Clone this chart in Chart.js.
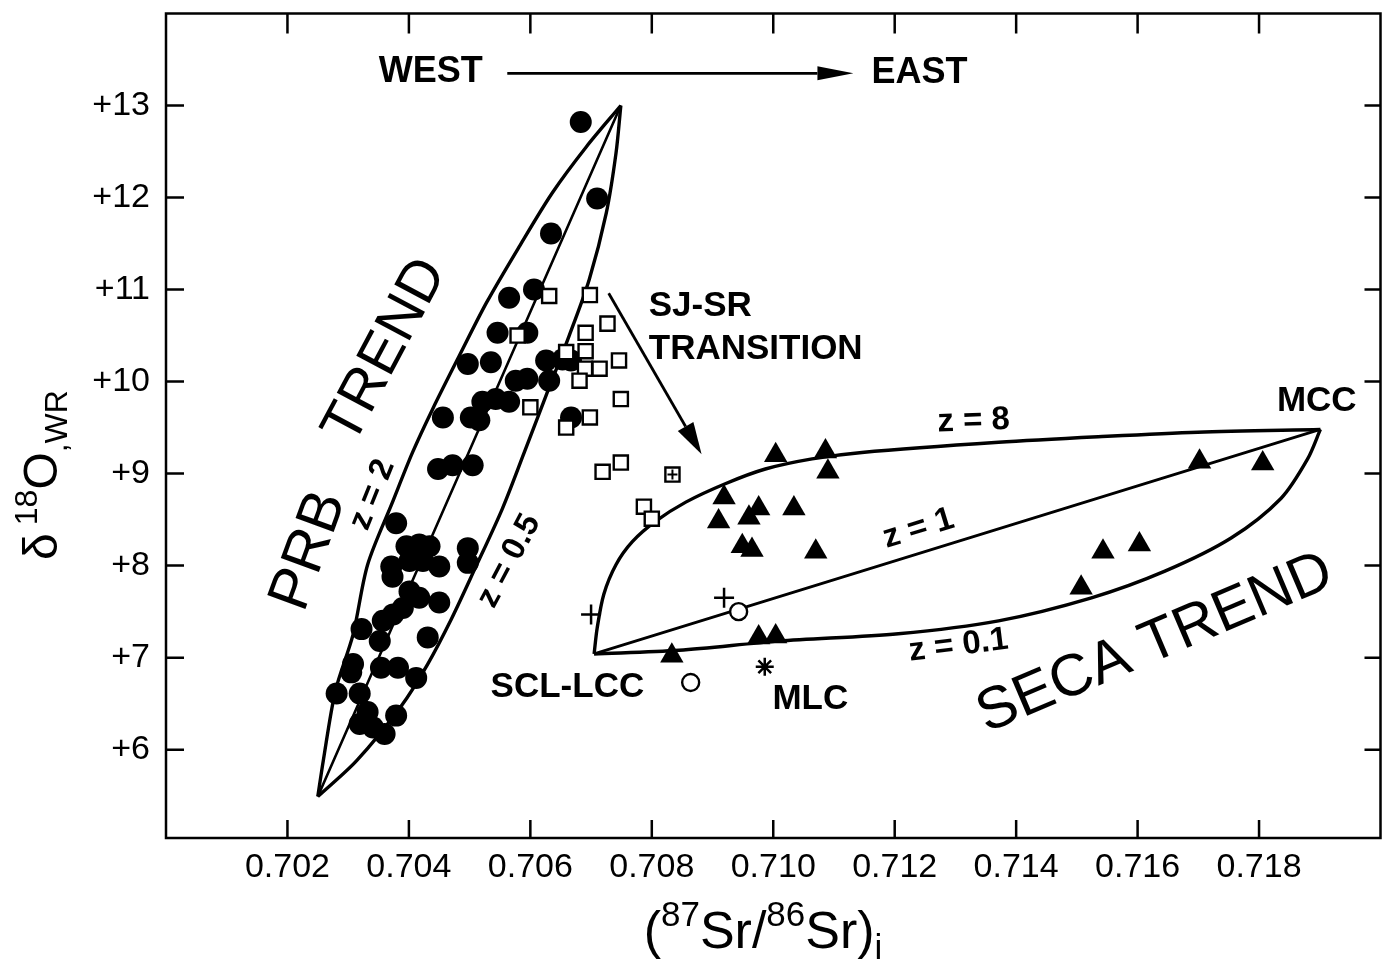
<!DOCTYPE html>
<html>
<head>
<meta charset="utf-8">
<title>δ18O vs (87Sr/86Sr)i</title>
<script src="https://cdn.jsdelivr.net/npm/chart.js@4.4.1/dist/chart.umd.min.js"></script>
<style>
  html, body { margin: 0; padding: 0; background: #fff; }
  #wrap { width: 1394px; height: 965px; }
</style>
</head>
<body>
<div id="wrap"><canvas id="chart" width="1394" height="965"></canvas></div>
<script>
const FONT = '"Liberation Sans", Arial, Helvetica, sans-serif';

// axis ticks
const srTicks = [0.702, 0.704, 0.706, 0.708, 0.710, 0.712, 0.714, 0.716, 0.718];
const d18oTicks = [6, 7, 8, 9, 10, 11, 12, 13];

// samples: [(87Sr/86Sr)i, δ18O]
const prbSamples = [
  [0.70683, 12.82], [0.70710, 11.99], [0.70634, 11.61], [0.70606, 11.00],
  [0.70565, 10.91], [0.70546, 10.53], [0.70595, 10.53], [0.70497, 10.19],
  [0.70535, 10.21], [0.70626, 10.23], [0.70653, 10.24], [0.70667, 10.23],
  [0.70631, 10.01], [0.70576, 10.01], [0.70595, 10.03], [0.70521, 9.78],
  [0.70543, 9.81], [0.70565, 9.78], [0.70456, 9.61], [0.70502, 9.61],
  [0.70516, 9.58], [0.70667, 9.61], [0.70448, 9.05], [0.70472, 9.09],
  [0.70505, 9.09], [0.70379, 8.46], [0.70396, 8.21], [0.70417, 8.23],
  [0.70434, 8.21], [0.70371, 7.99], [0.70373, 7.88], [0.70401, 8.05],
  [0.70423, 8.05], [0.70450, 7.99], [0.70497, 8.19], [0.70497, 8.03],
  [0.70401, 7.72], [0.70417, 7.65], [0.70450, 7.60], [0.70390, 7.54],
  [0.70374, 7.47], [0.70357, 7.40], [0.70322, 7.31], [0.70352, 7.18],
  [0.70431, 7.22], [0.70308, 6.93], [0.70305, 6.84], [0.70354, 6.89],
  [0.70382, 6.89], [0.70412, 6.78], [0.70281, 6.61], [0.70319, 6.61],
  [0.70332, 6.41], [0.70379, 6.37], [0.70319, 6.28], [0.70341, 6.24],
  [0.70360, 6.17]
];
const sjsrSamples = [
  [0.70631, 10.93], [0.70698, 10.94], [0.70727, 10.63], [0.70691, 10.53],
  [0.70579, 10.50], [0.70691, 10.33], [0.70659, 10.32], [0.70746, 10.23],
  [0.70714, 10.14], [0.70690, 10.14], [0.70681, 10.01], [0.70749, 9.81],
  [0.70600, 9.72], [0.70698, 9.61], [0.70659, 9.50], [0.70749, 9.12],
  [0.70719, 9.02], [0.70787, 8.64], [0.70800, 8.51]
];
const sjsrCrossed = [[0.70834, 8.99]];
const secaSamples = [
  [0.71004, 9.20], [0.71086, 9.24], [0.71090, 9.02], [0.70919, 8.74],
  [0.70910, 8.48], [0.70976, 8.62], [0.70960, 8.52], [0.71034, 8.62],
  [0.70949, 8.21], [0.70965, 8.17], [0.71070, 8.15], [0.70976, 7.22],
  [0.71004, 7.23], [0.70833, 7.02], [0.71702, 9.13], [0.71806, 9.11],
  [0.71543, 8.15], [0.71603, 8.23], [0.71507, 7.76]
];
const openSamples = [[0.70943, 7.50], [0.70864, 6.73]];
const plusSamples = [[0.70919, 7.65], [0.70700, 7.47]];
const mlcSample = [[0.70986, 6.90]];

// mixing curves
const prbZ2 = [
  [0.70250, 5.49], [0.70259, 5.88], [0.70279, 6.64], [0.70308, 7.25],
  [0.70332, 8.01], [0.70373, 8.69], [0.70406, 9.23], [0.70439, 9.70],
  [0.70483, 10.28], [0.70528, 10.86], [0.70582, 11.47], [0.70636, 12.05],
  [0.70692, 12.55], [0.70749, 13.00]
];
const prbZ1 = [[0.70250, 5.49], [0.70749, 13.00]];
const prbZ05 = [
  [0.70250, 5.49], [0.70314, 5.88], [0.70388, 6.48], [0.70431, 6.93],
  [0.70470, 7.42], [0.70509, 7.97], [0.70554, 8.62], [0.70590, 9.23],
  [0.70626, 9.85], [0.70664, 10.50], [0.70697, 11.11], [0.70725, 11.83],
  [0.70741, 12.48], [0.70749, 13.00]
];
const secaZ8 = [
  [0.70705, 7.04], [0.70710, 7.32], [0.70721, 7.69], [0.70741, 8.01],
  [0.70768, 8.26], [0.70806, 8.48], [0.70856, 8.69], [0.70921, 8.89],
  [0.70987, 9.05], [0.71064, 9.16], [0.71146, 9.23], [0.71371, 9.34],
  [0.71535, 9.40], [0.71699, 9.45], [0.71901, 9.48]
];
const secaZ1 = [[0.70705, 7.04], [0.71901, 9.48]];
const secaZ01 = [
  [0.70705, 7.04], [0.70845, 7.08], [0.71009, 7.18], [0.71206, 7.26],
  [0.71371, 7.40], [0.71524, 7.65], [0.71645, 7.94], [0.71754, 8.30],
  [0.71836, 8.73], [0.71880, 9.16], [0.71901, 9.48]
];

// arrows, in data units
const eastArrow = [[0.70562, 13.35], [0.71132, 13.35]];
const sjsrArrow = [[0.70729, 10.96], [0.70882, 9.21]];

// text placed on the plot, in data units
const notes = [
  { text: 'WEST', x: 0.70436, y: 13.36, size: 36, bold: true },
  { text: 'EAST', x: 0.71241, y: 13.35, size: 36, bold: true },
  { text: 'SJ-SR', x: 0.70795, y: 10.82, size: 35, bold: true, align: 'left' },
  { text: 'TRANSITION', x: 0.70795, y: 10.35, size: 35, bold: true, align: 'left' },
  { text: 'MCC', x: 0.71895, y: 9.78, size: 35, bold: true },
  { text: 'z = 8', x: 0.71330, y: 9.57, size: 33, bold: true, rot: -2 },
  { text: 'z = 1', x: 0.71239, y: 8.40, size: 33, bold: true, rot: -17 },
  { text: 'z = 0.1', x: 0.71305, y: 7.13, size: 33, bold: true, rot: -7 },
  { text: 'SCL-LCC', x: 0.70661, y: 6.68, size: 35, bold: true },
  { text: 'MLC', x: 0.71061, y: 6.55, size: 35, bold: true },
  { text: 'z = 2', x: 0.70340, y: 8.77, size: 33, bold: true, rot: -68 },
  { text: 'z = 0.5', x: 0.70565, y: 8.05, size: 33, bold: true, rot: -62 },
  { text: 'PRB', x: 0.70236, y: 8.16, size: 59, rot: -70 },
  { text: 'TREND', x: 0.70362, y: 10.33, size: 58, rot: -62 },
  { text: 'SECA TREND', x: 0.71629, y: 7.15, size: 59, rot: -23 }
];

const pts = arr => arr.map(([x, y]) => ({ x, y }));

function curve(data, width) {
  return {
    type: 'line', data: pts(data), showLine: true, tension: 0.3,
    borderColor: '#000', borderWidth: width, pointRadius: 0, fill: false, order: 5
  };
}

function drawArrow(ctx, x1, y1, x2, y2, head, half) {
  const a = Math.atan2(y2 - y1, x2 - x1);
  const bx = x2 - head * Math.cos(a), by = y2 - head * Math.sin(a);
  ctx.beginPath();
  ctx.moveTo(x1, y1);
  ctx.lineTo(bx, by);
  ctx.stroke();
  ctx.beginPath();
  ctx.moveTo(x2, y2);
  ctx.lineTo(bx + half * Math.sin(a), by - half * Math.cos(a));
  ctx.lineTo(bx - half * Math.sin(a), by + half * Math.cos(a));
  ctx.closePath();
  ctx.fill();
}

// text run with super/subscripts, centred on (cx, baseline cy)
function richText(ctx, parts, cx, cy, angle) {
  ctx.save();
  ctx.translate(cx, cy);
  ctx.rotate(angle);
  ctx.textAlign = 'left';
  ctx.textBaseline = 'alphabetic';
  let total = 0;
  parts.forEach(p => {
    ctx.font = `${p.size}px ${FONT}`;
    p.w = ctx.measureText(p.t).width + (p.gap || 0);
    total += p.w;
  });
  let x = -total / 2;
  parts.forEach(p => {
    ctx.font = `${p.size}px ${FONT}`;
    ctx.fillText(p.t, x, p.dy || 0);
    x += p.w;
  });
  ctx.restore();
}

const decorations = {
  id: 'decorations',
  afterDatasetsDraw(chart) {
    const { ctx, chartArea: a, scales: { x, y } } = chart;
    ctx.save();
    ctx.strokeStyle = '#000';
    ctx.fillStyle = '#000';
    ctx.lineWidth = 2.5;
    ctx.strokeRect(a.left, a.top, a.right - a.left, a.bottom - a.top);

    // inward tick marks on all four sides
    ctx.beginPath();
    srTicks.forEach(v => {
      const px = x.getPixelForValue(v);
      ctx.moveTo(px, a.bottom); ctx.lineTo(px, a.bottom - 18);
      ctx.moveTo(px, a.top); ctx.lineTo(px, a.top + 20);
    });
    d18oTicks.forEach(v => {
      const py = y.getPixelForValue(v);
      ctx.moveTo(a.left, py); ctx.lineTo(a.left + 18, py);
      ctx.moveTo(a.right, py); ctx.lineTo(a.right - 16, py);
    });
    ctx.stroke();

    ctx.lineWidth = 2.8;
    const px = p => [x.getPixelForValue(p[0]), y.getPixelForValue(p[1])];
    let [p1, p2] = eastArrow.map(px);
    drawArrow(ctx, p1[0], p1[1], p2[0], p2[1], 36, 7);
    [p1, p2] = sjsrArrow.map(px);
    drawArrow(ctx, p1[0], p1[1], p2[0], p2[1], 32, 9);

    notes.forEach(n => {
      ctx.save();
      ctx.translate(x.getPixelForValue(n.x), y.getPixelForValue(n.y));
      ctx.rotate((n.rot || 0) * Math.PI / 180);
      ctx.font = `${n.bold ? 'bold ' : ''}${n.size}px ${FONT}`;
      ctx.textAlign = n.align || 'center';
      ctx.textBaseline = 'middle';
      ctx.fillText(n.text, 0, 0);
      ctx.restore();
    });

    // axis titles
    richText(ctx, [
      { t: '(', size: 52 },
      { t: '87', size: 35, dy: -22 },
      { t: 'Sr/', size: 52 },
      { t: '86', size: 35, dy: -22 },
      { t: 'Sr)', size: 52 },
      { t: 'i', size: 35, dy: 11 }
    ], 763, 948, 0);
    richText(ctx, [
      { t: 'δ', size: 48, gap: 8 },
      { t: '18', size: 32, dy: -20 },
      { t: 'O', size: 48 },
      { t: ',WR', size: 32, dy: 10 }
    ], 57, 475, -Math.PI / 2);
    ctx.restore();
  }
};

new Chart(document.getElementById('chart'), {
  type: 'scatter',
  data: {
    datasets: [
      { data: pts(plusSamples), pointStyle: 'cross', pointRadius: 10, borderColor: '#000', borderWidth: 2.5, order: 0 },
      { data: pts(mlcSample), pointStyle: 'star', pointRadius: 9, borderColor: '#000', borderWidth: 2.5, order: 0 },
      { data: pts(sjsrCrossed), pointStyle: 'cross', pointRadius: 5, borderColor: '#000', borderWidth: 2, order: 0 },
      { data: pts(sjsrCrossed), pointStyle: 'rect', pointRadius: 10, backgroundColor: '#fff', borderColor: '#000', borderWidth: 2.4, order: 1 },
      { data: pts(openSamples), pointStyle: 'circle', pointRadius: 8.5, backgroundColor: '#fff', borderColor: '#000', borderWidth: 2.4, order: 1 },
      { data: pts(sjsrSamples), pointStyle: 'rect', pointRadius: 10, backgroundColor: '#fff', borderColor: '#000', borderWidth: 2.4, order: 2 },
      { data: pts(prbSamples), pointStyle: 'circle', pointRadius: 11, backgroundColor: '#000', borderColor: '#000', borderWidth: 0, order: 3 },
      { data: pts(secaSamples), pointStyle: 'triangle', pointRadius: 13.5, backgroundColor: '#000', borderColor: '#000', borderWidth: 0, order: 3 },
      curve(prbZ2, 3.4), curve(prbZ1, 2.6), curve(prbZ05, 3.4),
      curve(secaZ8, 3.4), curve(secaZ1, 2.8), curve(secaZ01, 3.4)
    ]
  },
  options: {
    responsive: false,
    animation: false,
    events: [],
    layout: { padding: { top: 9, right: 11, left: 0, bottom: 0 } },
    plugins: { legend: { display: false }, tooltip: { enabled: false } },
    scales: {
      x: {
        type: 'linear', min: 0.700, max: 0.720,
        grid: { display: false, drawTicks: false },
        border: { display: false },
        afterBuildTicks: s => { s.ticks = srTicks.map(v => ({ value: v })); },
        afterFit: s => { s.height = 127; s.paddingLeft = 0; s.paddingRight = 0; },
        ticks: {
          font: { family: FONT, size: 34 }, color: '#000', padding: 9,
          maxRotation: 0, autoSkip: false, callback: v => v.toFixed(3)
        }
      },
      y: {
        type: 'linear', min: 5.04, max: 14.0,
        grid: { display: false, drawTicks: false },
        border: { display: false },
        afterBuildTicks: s => { s.ticks = d18oTicks.map(v => ({ value: v })); },
        afterFit: s => { s.width = 166; s.paddingTop = 0; s.paddingBottom = 0; },
        ticks: {
          font: { family: FONT, size: 34 }, color: '#000', padding: 16,
          autoSkip: false, callback: v => '+' + v
        }
      }
    }
  },
  plugins: [decorations]
});
</script>
</body>
</html>
